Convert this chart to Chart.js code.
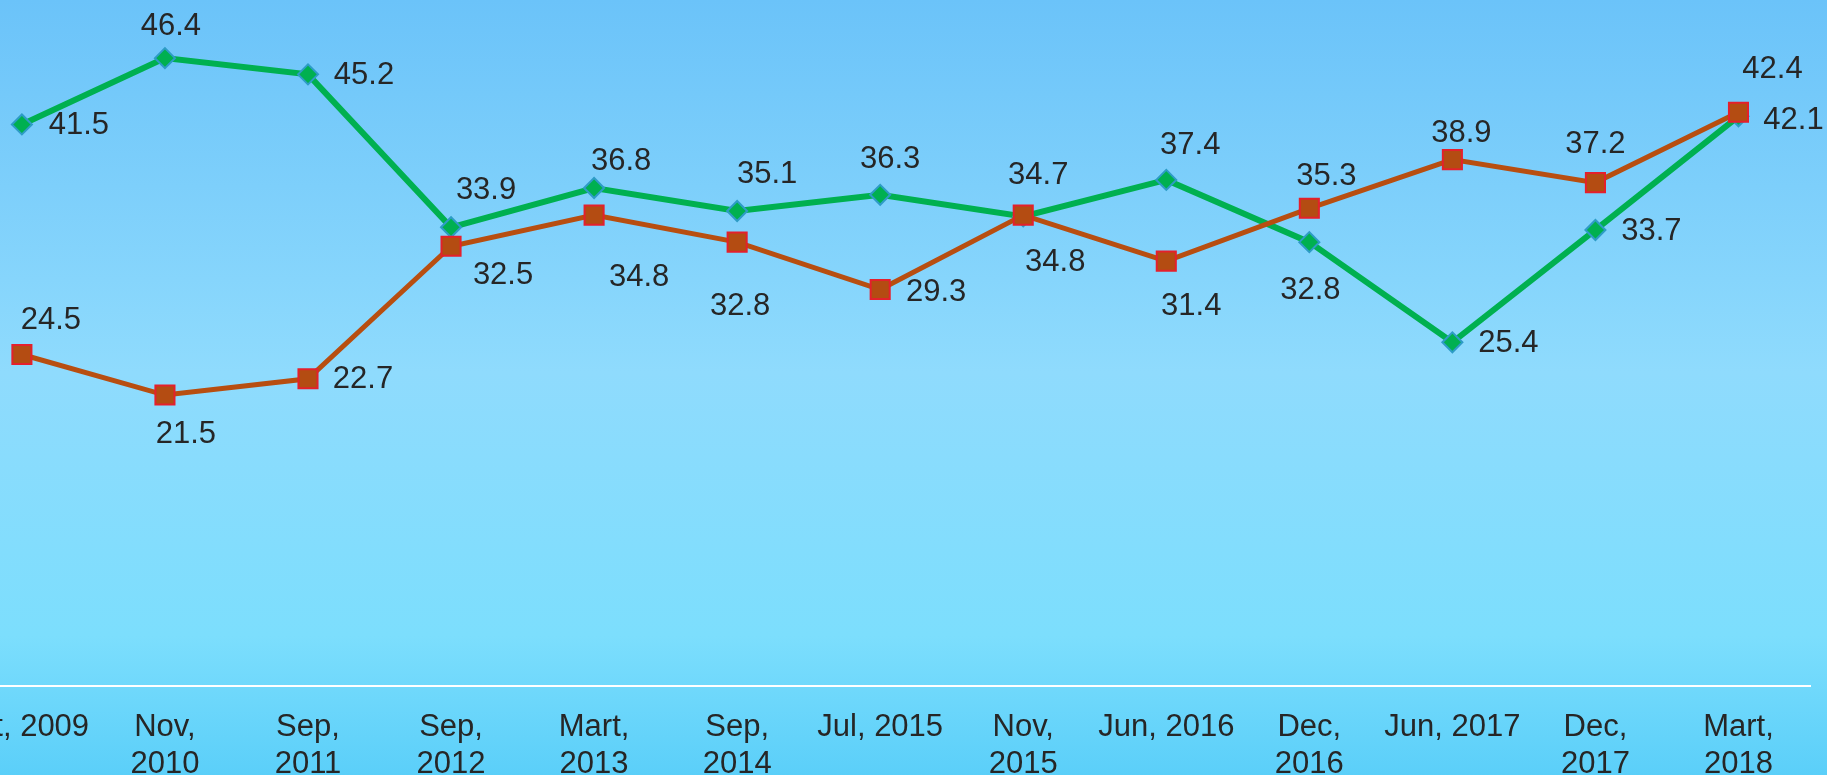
<!DOCTYPE html>
<html>
<head>
<meta charset="utf-8">
<script src="https://cdn.jsdelivr.net/npm/chart.js@4/dist/chart.umd.min.js"></script>
<style>
  html, body { margin: 0; padding: 0; overflow: hidden; }
  body {
    width: 1827px; height: 775px; position: relative;
    background: linear-gradient(to bottom, #6bc3f9 0%, #8fdbfd 48%, #7cdefd 82%, #5bcff9 100%);
  }
  #wrap { position: absolute; left: -69px; top: 0; width: 1896px; height: 775px; }
</style>
</head>
<body>
<div id="wrap"><canvas id="trendChart"></canvas></div>
<script>
// survey dates
let labels = [
  "Oct, 2009", ["Nov,", "2010"], ["Sep,", "2011"], ["Sep,", "2012"], ["Mart,", "2013"],
  ["Sep,", "2014"], "Jul, 2015", ["Nov,", "2015"], "Jun, 2016", ["Dec,", "2016"],
  "Jun, 2017", ["Dec,", "2017"], ["Mart,", "2018"]
];
let greenValues  = [41.5, 46.4, 45.2, 33.9, 36.8, 35.1, 36.3, 34.7, 37.4, 32.8, 25.4, 33.7, 42.1];
let orangeValues = [24.5, 21.5, 22.7, 32.5, 34.8, 32.8, 29.3, 34.8, 31.4, 35.3, 38.9, 37.2, 42.4];

// where each value label sits relative to its marker (px)
let greenLabelOffsets = [
  [57, 0], [6, -33], [56, 0], [35, -38], [27, -28], [30, -38], [10, -36],
  [15, -42], [24, -35], [1, 47], [56, 0], [56, 0], [55, 3]
];
let orangeLabelOffsets = [
  [29, -35], [21, 38], [55, 0], [52, 28], [45, 61], [3, 63], [56, 2],
  [32, 46], [25, 44], [17, -33], [9, -27], [0, -39], [34, -44]
];

const labelFont = "31px 'Liberation Sans', Arial, sans-serif";

let valueLabels = {
  id: "valueLabels",
  afterDatasetsDraw(chart) {
    let ctx = chart.ctx;
    ctx.save();
    ctx.font = labelFont;
    ctx.fillStyle = "#262626";
    ctx.textAlign = "center";
    ctx.textBaseline = "middle";
    chart.data.datasets.forEach((ds, i) => {
      let meta = chart.getDatasetMeta(i);
      meta.data.forEach((pt, j) => {
        let off = ds.labelOffsets[j];
        ctx.fillText(ds.data[j].toFixed(1), pt.x + off[0], pt.y + off[1] + 1);
      });
    });
    ctx.restore();
  }
};

let ctx = document.getElementById("trendChart");
new Chart(ctx, {
  type: "line",
  data: {
    labels: labels,
    datasets: [
      {
        data: greenValues,
        labelOffsets: greenLabelOffsets,
        borderColor: "#00b050",
        borderWidth: 6,
        pointStyle: "rectRot",
        pointRadius: 10,
        pointBackgroundColor: "#00b050",
        pointBorderColor: "#2e9cc6",
        pointBorderWidth: 2,
        tension: 0,
        order: 2
      },
      {
        data: orangeValues,
        labelOffsets: orangeLabelOffsets,
        borderColor: "#b84e10",
        borderWidth: 5,
        pointStyle: "rect",
        pointRadius: 13.5,
        pointBackgroundColor: "#b44c12",
        pointBorderColor: "#e4202c",
        pointBorderWidth: 2,
        tension: 0,
        order: 1
      }
    ]
  },
  options: {
    responsive: true,
    maintainAspectRatio: false,
    animation: false,
    layout: { padding: { top: 0, right: 17, left: 18, bottom: 0 } },
    plugins: { legend: { display: false }, tooltip: { enabled: false } },
    scales: {
      x: {
        offset: true,
        grid: { display: false, drawTicks: false },
        border: { display: true, color: "#ffffff", width: 2 },
        ticks: {
          color: "#262626",
          padding: 23,
          maxRotation: 0,
          autoSkip: false,
          font: { family: "'Liberation Sans', Arial, sans-serif", size: 31, lineHeight: 1.2 }
        },
        afterFit(scale) { scale.height = 89; }
      },
      y: {
        display: false,
        min: 0,
        max: 49.55
      }
    }
  },
  plugins: [valueLabels]
});
</script>
</body>
</html>
